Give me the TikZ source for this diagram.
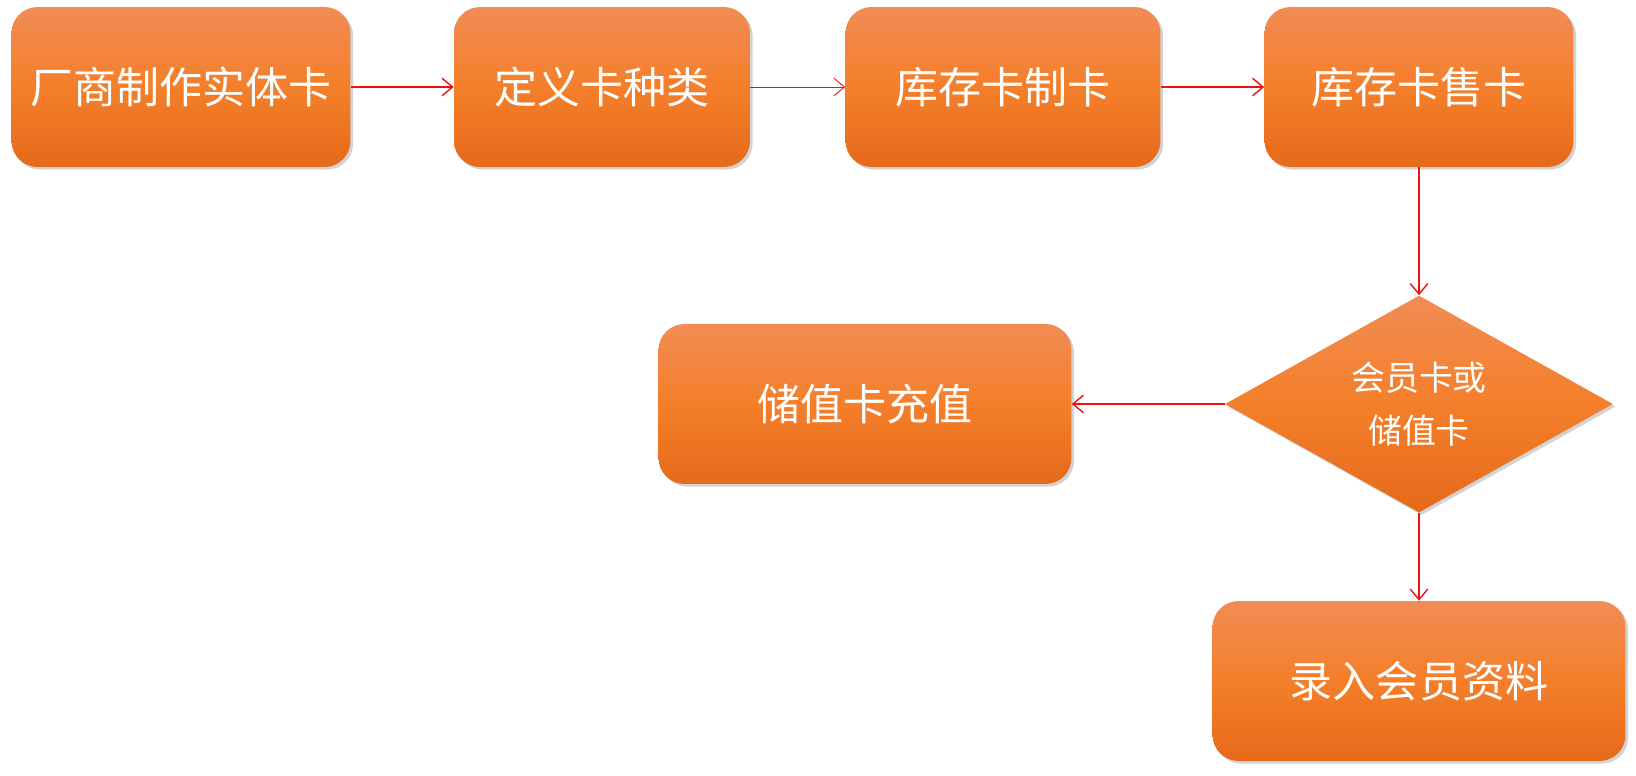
\documentclass[tikz,border=0pt]{standalone}
\usepackage{fontspec}
\setmainfont{Noto Sans CJK SC}
\usetikzlibrary{shapes.geometric,arrows.meta,shadows}
\definecolor{orangetop}{HTML}{F18C55}
\definecolor{orangemid}{HTML}{F47F2A}
\definecolor{orangebot}{HTML}{E56A1A}
\definecolor{linkred}{HTML}{F01010}
\tikzset{
	cardbox/.style={rectangle,rounded corners=0.52cm,top color=orangetop,bottom color=orangebot,middle color=orangemid,
		text=white,font=\fontsize{24.5}{29}\selectfont,minimum height=3.2cm,
		drop shadow={opacity=0.35,shadow xshift=1.5pt,shadow yshift=-1.5pt}},
	choice/.style={diamond,aspect=1.79,top color=orangetop,bottom color=orangebot,middle color=orangemid,
		text=white,font=\fontsize{19.3}{30}\selectfont,align=center,minimum width=7.76cm,minimum height=4.34cm,inner sep=0pt,
		drop shadow={opacity=0.35,shadow xshift=1.5pt,shadow yshift=-1.5pt}},
	flow/.style={draw=linkred,line width=0.8pt,-{Straight Barb[length=6pt,width=10pt]}}
}
\begin{document}
\begin{tikzpicture}[x=0.02cm,y=-0.02cm]
	% top row
	\node[cardbox,minimum width=6.78cm] (maker) at (181,87) {厂商制作实体卡};
	\node[cardbox,minimum width=5.92cm] (kind) at (602,87) {定义卡种类};
	\node[cardbox,minimum width=6.30cm] (make) at (1003,87) {库存卡制卡};
	\node[cardbox,minimum width=6.18cm] (sell) at (1419,87) {库存卡售卡};
	% decision and the two branches
	\node[choice] (type) at (1419,404) {会员卡或\\储值卡};
	\node[cardbox,minimum width=8.26cm] (charge) at (865,404) {储值卡充值};
	\node[cardbox,minimum width=8.26cm] (member) at (1419,681) {录入会员资料};
	\draw[flow] (maker) -- (kind);
	\draw[flow,line width=0.5pt] (kind) -- (make);
	\draw[flow] (make) -- (sell);
	\draw[flow] (sell) -- (type);
	\draw[flow] (type) -- (charge);
	\draw[flow] (type) -- (member);
	\pgfresetboundingbox
	\useasboundingbox (0,0) rectangle (1636,775);
\end{tikzpicture}
\end{document}
